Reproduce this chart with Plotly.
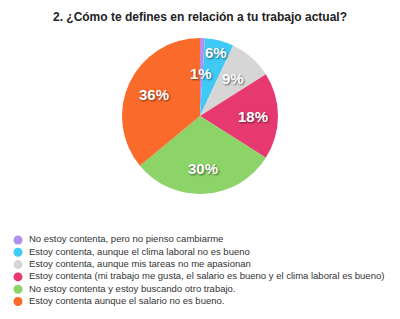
import math
import plotly.graph_objects as go

title = "2. ¿Cómo te defines en relación a tu trabajo actual?"
categories = [
    "No estoy contenta, pero no pienso cambiarme",
    "Estoy contenta, aunque el clima laboral no es bueno",
    "Estoy contenta, aunque mis tareas no me apasionan",
    "Estoy contenta (mi trabajo me gusta, el salario es bueno y el clima laboral es bueno)",
    "No estoy contenta y estoy buscando otro trabajo.",
    "Estoy contenta aunque el salario no es bueno.",
]
values = [1, 6, 9, 18, 30, 36]
colors = ["#B48FEE", "#40C9F5", "#D6D6D6", "#E6396F", "#8CD467", "#FA6A2A"]

W, H = 400, 319
CX, CY, R = 200, 116, 78
label_r = [0.55, 0.84, 0.64, 0.68, 0.67, 0.65]

fig = go.Figure()
fig.add_trace(go.Pie(
    values=values, labels=categories, sort=False, direction="clockwise", rotation=0,
    marker=dict(colors=colors, line=dict(width=0)),
    textinfo="none", hoverinfo="label+percent", showlegend=False,
    domain=dict(x=[(CX - R) / W, (CX + R) / W], y=[1 - (CY + R) / H, 1 - (CY - R) / H]),
))

# percentage labels at slice mid-angles
total = sum(values)
cum = 0
annotations = []
for v, rf in zip(values, label_r):
    mid = (cum + v / 2) / total * 2 * math.pi
    cum += v
    px = CX + rf * R * math.sin(mid)
    py = CY - rf * R * math.cos(mid)
    annotations.append(dict(
        x=px / W, y=1 - py / H, xref="paper", yref="paper", showarrow=False,
        xanchor="center", yanchor="middle",
        text=f"<b>{round(v / total * 100)}%</b>",
        font=dict(family="Liberation Sans, Arial", size=15, color="white",
                  shadow="1px 1px 2px rgba(0,0,0,0.55)"),
    ))

# legend drawn as scatter traces: markers + text
idx = list(range(len(categories)))
fig.add_trace(go.Scatter(
    x=[0] * len(categories), y=idx, mode="markers",
    marker=dict(color=colors, size=9, line=dict(width=0)),
    showlegend=False, hoverinfo="skip", cliponaxis=False,
))
fig.add_trace(go.Scatter(
    x=[11] * len(categories), y=idx, mode="text", text=categories, textposition="middle right",
    textfont=dict(family="Liberation Sans, Arial", size=9.5, color="#333333"),
    showlegend=False, hoverinfo="skip", cliponaxis=False,
))

row_px = 12.3
first_row = 240
fig.update_layout(
    width=W, height=H, margin=dict(l=0, r=0, t=0, b=0),
    paper_bgcolor="white", plot_bgcolor="rgba(0,0,0,0)",
    title=dict(text=f"<b>{title}</b>", x=0.5, xanchor="center", y=1 - 17 / H, yanchor="middle",
               font=dict(family="Liberation Sans, Arial", size=12, color="#222222")),
    xaxis=dict(range=[-18, W - 18], visible=False, fixedrange=True),
    yaxis=dict(range=[(H - first_row) / row_px, -first_row / row_px], autorange=False,
               visible=False, fixedrange=True),
    annotations=annotations,
)

fig.write_html("out.html")
